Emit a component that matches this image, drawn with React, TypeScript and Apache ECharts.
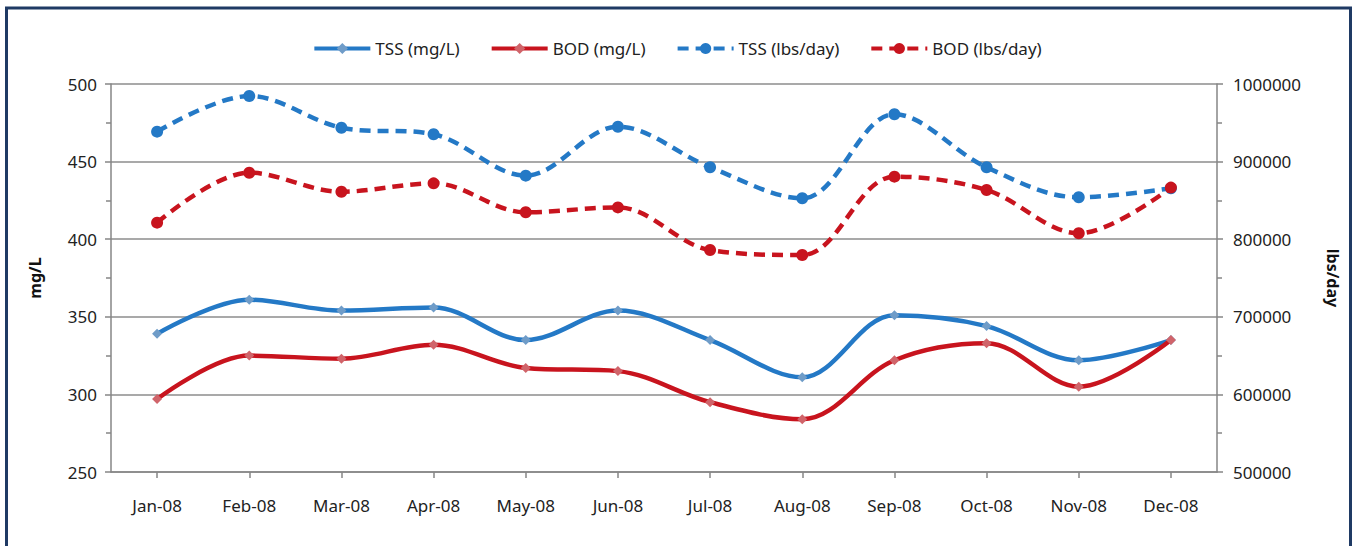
import React, { useEffect, useRef } from "react";
import * as echarts from "echarts";

const categories = ["Jan-08", "Feb-08", "Mar-08", "Apr-08", "May-08", "Jun-08", "Jul-08", "Aug-08", "Sep-08", "Oct-08", "Nov-08", "Dec-08"];
const tssMg = [339, 361, 354, 356, 335, 354, 335, 311, 351, 344, 322, 335];
const bodMg = [297, 325, 323, 332, 317, 315, 295, 284, 322, 333, 305, 335];
const tssLbs = [938600, 984500, 943700, 935200, 881900, 945000, 892700, 852700, 961000, 892700, 854000, 865600];
const bodLbs = [821300, 885700, 861200, 872000, 834700, 841000, 786100, 779600, 880600, 863400, 807600, 866500];

const BLUE = "#2479C6";
const RED = "#C8141E";
const FONT = "'Noto Sans', sans-serif";

export default function App() {
  const ref = useRef<HTMLDivElement>(null);
  useEffect(() => {
    const chart = echarts.init(ref.current!, undefined, { renderer: "svg" });
    const axisLine = { show: true, lineStyle: { color: "#868686", width: 1.5 } };
    const labelStyle = { color: "#222", fontSize: 17, fontFamily: FONT };
    chart.setOption({
      animation: false,
      backgroundColor: "#fff",
      textStyle: { fontFamily: FONT },
      graphic: [
        {
          type: "rect",
          shape: { x: 6.5, y: 8, width: 1344, height: 600 },
          style: { fill: "none", stroke: "#1F3A64", lineWidth: 3 },
          silent: true,
        },
      ],
      legend: {
        top: 35,
        left: "center",
        itemWidth: 56,
        itemHeight: 14,
        itemGap: 30,
        lineStyle: { width: 4 },
        textStyle: { color: "#222", fontSize: 17, fontFamily: FONT },
        data: ["TSS (mg/L)", "BOD (mg/L)", "TSS (lbs/day)", "BOD (lbs/day)"],
      },
      grid: { left: 111, right: 137, top: 84, bottom: 74 },
      xAxis: {
        type: "category",
        data: categories,
        boundaryGap: true,
        axisLine,
        axisTick: { show: true, alignWithLabel: true, length: 6, lineStyle: { color: "#868686", width: 1.5 } },
        axisLabel: { ...labelStyle, margin: 25 },
      },
      yAxis: [
        {
          type: "value",
          min: 250,
          max: 500,
          interval: 50,
          name: "mg/L",
          nameLocation: "middle",
          nameGap: 68,
          nameRotate: 90,
          nameTextStyle: { color: "#111", fontSize: 16, fontWeight: "bold", fontFamily: FONT },
          axisLine,
          axisTick: { show: true, length: 6, lineStyle: { color: "#868686", width: 1.5 } },
          minorTick: { show: true, splitNumber: 2, length: 5, lineStyle: { color: "#868686", width: 1.5 } },
          splitLine: { show: true, lineStyle: { color: "#8C8C8C", width: 1.5 } },
          axisLabel: { ...labelStyle, margin: 14 },
        },
        {
          type: "value",
          min: 500000,
          max: 1000000,
          interval: 100000,
          name: "lbs/day",
          nameLocation: "middle",
          nameGap: 108,
          nameRotate: -90,
          nameTextStyle: { color: "#111", fontSize: 16, fontWeight: "bold", fontFamily: FONT },
          axisLine,
          axisTick: { show: true, length: 6, lineStyle: { color: "#868686", width: 1.5 } },
          minorTick: { show: true, splitNumber: 2, length: 5, lineStyle: { color: "#868686", width: 1.5 } },
          splitLine: { show: false },
          axisLabel: { ...labelStyle, margin: 16, formatter: (v: number) => String(v) },
        },
      ],
      series: [
        {
          name: "TSS (mg/L)",
          type: "line",
          yAxisIndex: 0,
          data: tssMg,
          smooth: 0.35,
          symbol: "diamond",
          symbolSize: 10,
          itemStyle: { color: "#6F9CC8" },
          lineStyle: { color: BLUE, width: 4.5 },
          z: 3,
        },
        {
          name: "BOD (mg/L)",
          type: "line",
          yAxisIndex: 0,
          data: bodMg,
          smooth: 0.35,
          symbol: "diamond",
          symbolSize: 10,
          itemStyle: { color: "#D0646A" },
          lineStyle: { color: RED, width: 4.5 },
          z: 4,
        },
        {
          name: "TSS (lbs/day)",
          type: "line",
          yAxisIndex: 1,
          data: tssLbs,
          smooth: 0.35,
          symbol: "circle",
          symbolSize: 12,
          itemStyle: { color: BLUE },
          lineStyle: { color: BLUE, width: 4.5, type: [11, 7] },
          z: 3,
        },
        {
          name: "BOD (lbs/day)",
          type: "line",
          yAxisIndex: 1,
          data: bodLbs,
          smooth: 0.35,
          symbol: "circle",
          symbolSize: 12,
          itemStyle: { color: RED },
          lineStyle: { color: RED, width: 4.5, type: [11, 7] },
          z: 4,
        },
      ],
    });
    return () => chart.dispose();
  }, []);
  return (
    <div
      ref={ref}
      style={{ position: "fixed", left: 0, top: 0, width: 1354, height: 546, background: "#fff" }}
    />
  );
}
